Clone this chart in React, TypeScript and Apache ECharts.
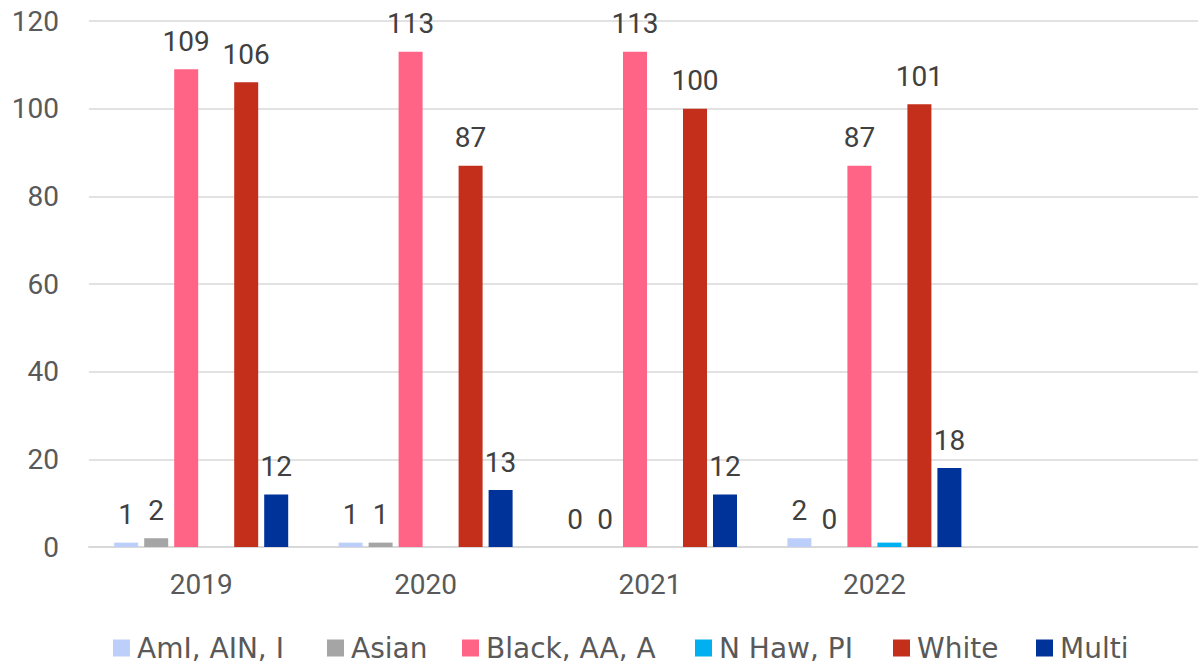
import React, { useEffect, useRef } from "react";
import * as echarts from "echarts";

const categories = ["2019", "2020", "2021", "2022", ""];
const seriesNames = ["AmI, AIN, I", "Asian", "Black, AA, A", "N Haw, PI", "White", "Multi"];
const amiValues = [1, 1, 0, 2, null];
const asianValues = [2, 1, 0, 0, null];
const blackValues = [109, 113, 113, 87, null];
const nhawValues = [null, null, null, 1, null];
const whiteValues = [106, 87, 100, 101, null];
const multiValues = [12, 13, 12, 18, null];
const yTicks = { min: 0, max: 120, interval: 20 };

const colors = ["#bccffb", "#a5a5a5", "#ff6486", "#00b0f0", "#c32f1b", "#003399"];
const showLabels = [true, true, true, false, true, true];
const legendLefts = [113, 327, 462, 695, 893, 1036];

export default function App() {
  const ref = useRef<HTMLDivElement>(null);
  useEffect(() => {
    if (!ref.current) return;
    const chart = echarts.init(ref.current, null, { renderer: "svg" });
    const allData = [amiValues, asianValues, blackValues, nhawValues, whiteValues, multiValues];
    const series = seriesNames.map((name, i) => ({
      name,
      type: "bar",
      data: allData[i],
      barWidth: 24,
      barGap: "25%",
      itemStyle: { color: colors[i] },
      label: {
        show: showLabels[i],
        position: "top",
        distance: 14,
        fontSize: 28,
        fontFamily: "Roboto",
        color: "#404040",
      },
    }));
    const legends = seriesNames.map((name, i) => ({
      data: [name],
      left: legendLefts[i],
      top: 634,
      padding: 0,
      itemWidth: 17,
      itemHeight: 17,
      icon: "rect",
      textStyle: {
        fontSize: 28,
        fontFamily: "DejaVu Sans",
        color: "#595959",
        padding: [0, 0, 0, 2],
      },
    }));
    chart.setOption({
      animation: false,
      backgroundColor: "#ffffff",
      grid: { left: 89, right: 0, top: 21, bottom: 119, containLabel: false },
      legend: legends,
      xAxis: {
        type: "category",
        data: categories,
        axisLine: { lineStyle: { color: "#d9d9d9", width: 2 } },
        axisTick: { show: false },
        axisLabel: { fontSize: 28, fontFamily: "Roboto", color: "#595959", margin: 23 },
      },
      yAxis: {
        type: "value",
        min: yTicks.min,
        max: yTicks.max,
        interval: yTicks.interval,
        axisLine: { show: false },
        axisTick: { show: false },
        splitLine: { lineStyle: { color: "#d9d9d9", width: 1.5 } },
        axisLabel: { fontSize: 28, fontFamily: "Roboto", color: "#595959", margin: 30 },
      },
      series,
    });
    return () => chart.dispose();
  }, []);
  return (
    <div style={{ position: "absolute", left: 0, top: 0, width: 1198, height: 666, overflow: "hidden" }}>
      <div ref={ref} style={{ position: "absolute", left: 0, top: 0, width: 1211, height: 666 }} />
    </div>
  );
}
